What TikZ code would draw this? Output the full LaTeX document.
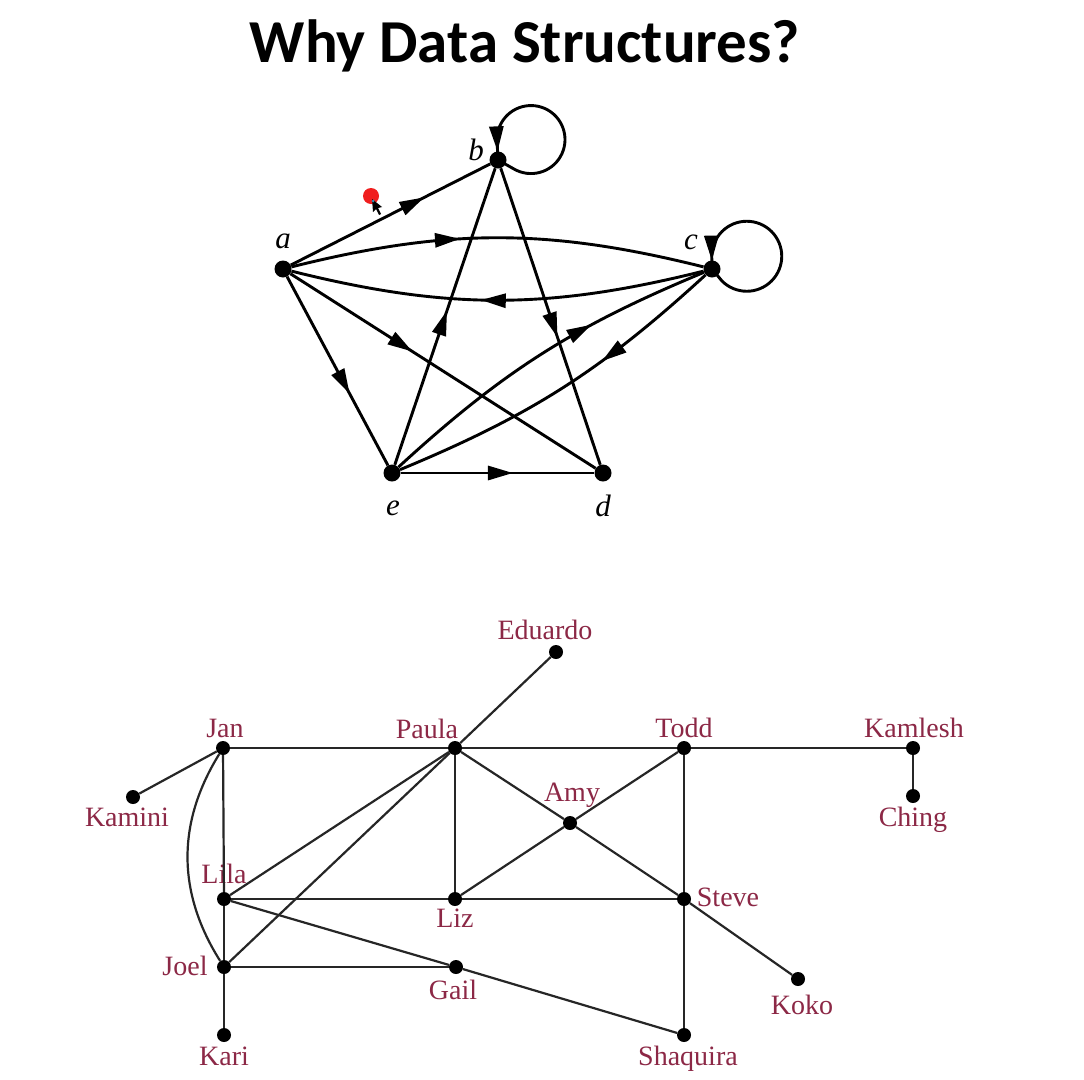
\documentclass[tikz,border=0pt]{standalone}
\usepackage{fontspec}
\setmainfont{Liberation Serif}
\newfontfamily\titlefont{Carlito}
\usetikzlibrary{arrows.meta,decorations.markings}
\definecolor{lblred}{RGB}{140,40,70}
\definecolor{ptrred}{RGB}{240,30,30}
\begin{document}
\begin{tikzpicture}[x=1pt,y=-1pt,
  bigdot/.style={circle,fill=black,inner sep=0pt,minimum size=17pt},
  smalldot/.style={circle,fill=black,inner sep=0pt,minimum size=14pt},
  dedge/.style={line width=2.9pt,draw=black},
  uedge/.style={line width=2.2pt,draw=black!85},
  midarrow/.style={postaction={decorate},decoration={markings,mark=at position #1 with {\arrow{Triangle[length=25pt,width=14pt]}}}},
  vlabel/.style={font=\fontsize{31}{31}\selectfont\itshape,inner sep=0pt},
  plabel/.style={font=\fontsize{28}{28}\selectfont,text=lblred,inner sep=0pt,text height=18.5pt,text depth=0pt},
]
\fill[white] (0,0) rectangle (1084,1079);
\useasboundingbox (0,0) rectangle (1084,1079);

% title
\node[anchor=base,font=\titlefont\bfseries\fontsize{61}{61}\selectfont] (title) at (525,62) {Why Data Structures?};

% directed graph
\node[bigdot] (a) at (283,269) {};
\node[bigdot] (b) at (498,160) {};
\node[bigdot] (c) at (712,269) {};
\node[bigdot] (e) at (392,473) {};
\node[bigdot] (d) at (603,473) {};
\node[vlabel] (la) at (283,241) {a};
\node[vlabel] (lb) at (476,150) {b};
\node[vlabel] (lc) at (691,242) {c};
\node[vlabel] (le) at (393,508) {e};
\node[vlabel] (ld) at (603,506) {d};

\draw[dedge,midarrow=0.67] (a) -- (b);
\draw[dedge,midarrow=0.41] (a) to[bend left=14] (c);
\draw[dedge,midarrow=0.54] (c) to[bend left=14] (a);
\draw[dedge,midarrow=0.62] (a) -- (e);
\draw[dedge,midarrow=0.40] (a) -- (d);
\draw[dedge,midarrow=0.52] (e) -- (b);
\draw[dedge,midarrow=0.57] (b) -- (d);
\draw[dedge,midarrow=0.58] (e) -- (d);
\draw[dedge,midarrow=0.66] (e) to[bend left=10] (c);
\draw[dedge,midarrow=0.37] (c) to[bend left=10] (e);
% self loops
\draw[dedge,midarrow=0.96] (b.center) -- (514,169) arc[start angle=120,end angle=-180,radius=34] -- (b.center);
\draw[dedge,midarrow=0.962] (c.center) -- (722,281) arc[start angle=135,end angle=-180,radius=35] -- (c.center);

% pointer
\node[circle,fill=ptrred,inner sep=0pt,minimum size=16pt] (pointer) at (371,196) {};
\fill[black] (372,199) -- (373,212) -- (376,209) -- (379,215) -- (381,214) -- (378,208) -- (382,207) -- cycle;
\fill[cyan!70!black] (373,201) circle[radius=1.5];

% social graph
\node[smalldot] (Eduardo) at (556,652) {};
\node[smalldot] (Jan) at (223,748) {};
\node[smalldot] (Paula) at (455,748) {};
\node[smalldot] (Todd) at (684,748) {};
\node[smalldot] (Kamlesh) at (913,748) {};
\node[smalldot] (Ching) at (913,796) {};
\node[smalldot] (Kamini) at (133,797) {};
\node[smalldot] (Amy) at (570,823) {};
\node[smalldot] (Lila) at (224,899) {};
\node[smalldot] (Liz) at (455,899) {};
\node[smalldot] (Steve) at (684,899) {};
\node[smalldot] (Joel) at (224,967) {};
\node[smalldot] (Gail) at (456,967) {};
\node[smalldot] (Koko) at (798,979) {};
\node[smalldot] (Kari) at (224,1035) {};
\node[smalldot] (Shaquira) at (684,1035) {};

\node[plabel] (lEduardo) at (545,630) {Eduardo};
\node[plabel] (lJan) at (225,728) {Jan};
\node[plabel] (lPaula) at (427,729) {Paula};
\node[plabel] (lTodd) at (684,728) {Todd};
\node[plabel] (lKamlesh) at (914,728) {Kamlesh};
\node[plabel] (lChing) at (913,817) {Ching};
\node[plabel] (lKamini) at (127,817) {Kamini};
\node[plabel] (lAmy) at (572,792) {Amy};
\node[plabel] (lLila) at (224,874) {Lila};
\node[plabel] (lLiz) at (455,918) {Liz};
\node[plabel] (lSteve) at (728,897) {Steve};
\node[plabel] (lJoel) at (185,966) {Joel};
\node[plabel] (lGail) at (453,990) {Gail};
\node[plabel] (lKoko) at (802,1005) {Koko};
\node[plabel] (lKari) at (224,1056) {Kari};
\node[plabel] (lShaquira) at (688,1056) {Shaquira};

\draw[uedge] (Jan) -- (Paula);
\draw[uedge] (Paula) -- (Todd);
\draw[uedge] (Todd) -- (Kamlesh);
\draw[uedge] (Kamlesh) -- (Ching);
\draw[uedge] (Jan) -- (Kamini);
\draw[uedge] (Jan) -- (Lila);
\draw[uedge] (Jan) to[bend right=32] (Joel);
\draw[uedge] (Paula) -- (Eduardo);
\draw[uedge] (Paula) -- (Lila);
\draw[uedge] (Paula) -- (Joel);
\draw[uedge] (Paula) -- (Liz);
\draw[uedge] (Paula) -- (Amy);
\draw[uedge] (Amy) -- (Steve);
\draw[uedge] (Todd) -- (Amy);
\draw[uedge] (Amy) -- (Liz);
\draw[uedge] (Todd) -- (Steve);
\draw[uedge] (Steve) -- (Shaquira);
\draw[uedge] (Lila) -- (Liz);
\draw[uedge] (Liz) -- (Steve);
\draw[uedge] (Steve) -- (Koko);
\draw[uedge] (Lila) -- (Joel);
\draw[uedge] (Joel) -- (Kari);
\draw[uedge] (Lila) -- (Gail);
\draw[uedge] (Gail) -- (Shaquira);
\draw[uedge] (Joel) -- (Gail);
\end{tikzpicture}
\end{document}
